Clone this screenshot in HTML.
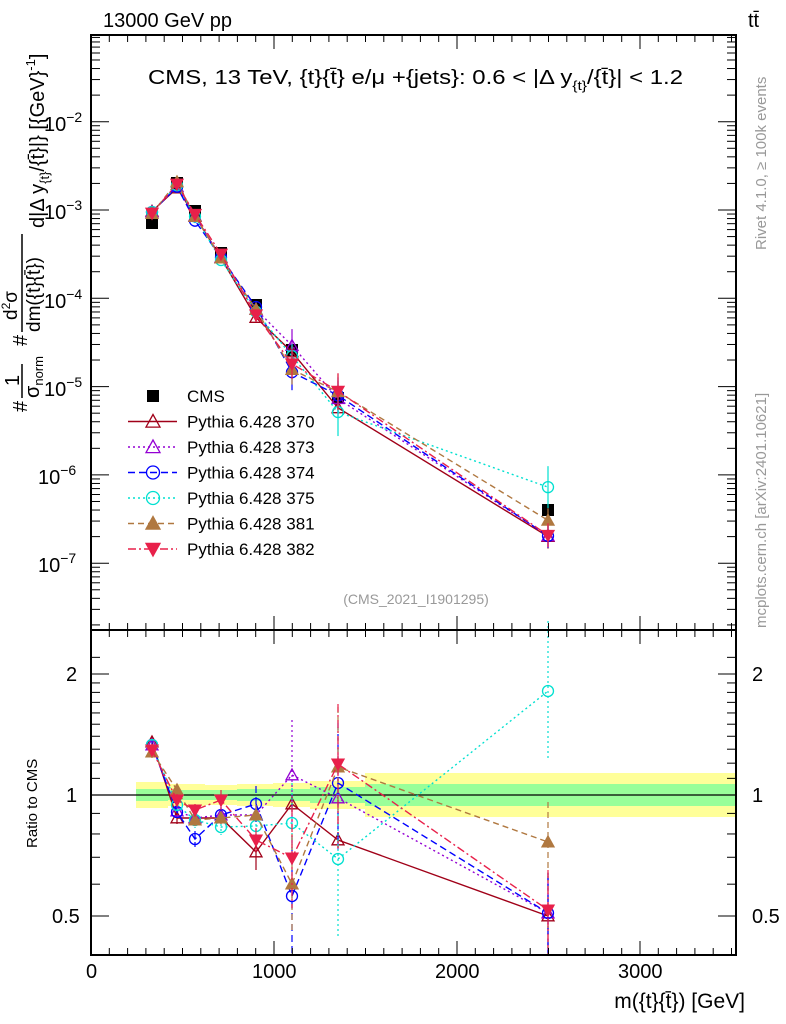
<!DOCTYPE html>
<html><head><meta charset="utf-8"><style>
html,body{margin:0;padding:0;background:#fff;}
svg{display:block;font-family:"Liberation Sans",sans-serif;}
</style></head><body>
<svg id="s" width="786" height="1024" viewBox="0 0 786 1024" xmlns="http://www.w3.org/2000/svg">
<rect width="786" height="1024" fill="#fff"/>
<g id="bands"></g>
<line x1="91" y1="795" x2="736" y2="795" stroke="#000" stroke-width="1.2"/>
<g id="data"></g>
<g id="axes" stroke="#000" fill="none"></g>
<rect x="91" y="35" width="645" height="595" fill="none" stroke="#000" stroke-width="2"/>
<rect x="91" y="630" width="645" height="325" fill="none" stroke="#000" stroke-width="2"/>
<g font-size="20" fill="#000">
<text x="103" y="27">13000 GeV pp</text>
<text x="748" y="27">tt̄</text>
<text x="148" y="84" font-size="20" textLength="535" lengthAdjust="spacingAndGlyphs">CMS, 13 TeV, {t}{t̄} e/μ +{jets}: 0.6 &lt; |Δ y<tspan font-size="13" dy="6">{t}</tspan><tspan dy="-6">/{t̄}| &lt; 1.2</tspan></text>
<text x="44" y="131">10<tspan font-size="14" dy="-9">−2</tspan></text>
<text x="44" y="219">10<tspan font-size="14" dy="-9">−3</tspan></text>
<text x="44" y="308">10<tspan font-size="14" dy="-9">−4</tspan></text>
<text x="44" y="396">10<tspan font-size="14" dy="-9">−5</tspan></text>
<text x="38" y="484">10<tspan font-size="14" dy="-9">−6</tspan></text>
<text x="38" y="572">10<tspan font-size="14" dy="-9">−7</tspan></text>
<text x="66" y="681">2</text><text x="66" y="802">1</text><text x="52" y="923">0.5</text>
<text x="752" y="681">2</text><text x="752" y="802">1</text><text x="752" y="923">0.5</text>
<text x="86" y="978">0</text><text x="252" y="978">1000</text><text x="435" y="978">2000</text><text x="618" y="978">3000</text>
<text x="745" y="1008" text-anchor="end" font-size="21">m({t}{t̄}) [GeV]</text>
<g transform="translate(0,412) rotate(-90)" font-size="20">
<text x="0" y="27">#</text>
<text x="26" y="19" font-size="20">1</text>
<line x1="14" y1="22" x2="48" y2="22" stroke="#000" stroke-width="1.5"/>
<text x="14" y="39" font-size="20">σ<tspan font-size="13" dy="4">norm</tspan></text>
<text x="66" y="27">#</text>
<text x="92" y="17" font-size="19">d<tspan font-size="12" dy="-7">2</tspan><tspan dy="7">σ</tspan></text>
<line x1="80" y1="22" x2="178" y2="22" stroke="#000" stroke-width="1.5"/>
<text x="80" y="40" font-size="19">dm({t}{t̄})</text>
<text x="184" y="44">d|Δ y<tspan font-size="13" dy="5">{t}</tspan><tspan dy="-5">/{t̄}|} [{GeV}</tspan><tspan font-size="13" dy="-9">-1</tspan><tspan dy="9">]</tspan></text>
</g>
<text transform="translate(37,848) rotate(-90)" font-size="15">Ratio to CMS</text>
<text transform="translate(766,250) rotate(-90)" font-size="15" fill="#999">Rivet 4.1.0, ≥ 100k events</text>
<text transform="translate(766,628) rotate(-90)" font-size="15" fill="#999">mcplots.cern.ch [arXiv:2401.10621]</text>
<text x="416" y="604" text-anchor="middle" font-size="14" fill="#999">(CMS_2021_I1901295)</text>
</g>
<g id="legend" font-size="17"></g>
<script>
var NS="http://www.w3.org/2000/svg";
function el(p,t,a){var e=document.createElementNS(NS,t);for(var k in a)e.setAttribute(k,a[k]);p.appendChild(e);return e;}
var ax=document.getElementById('axes'),bd=document.getElementById('bands'),dt=document.getElementById('data'),lg=document.getElementById('legend');
function X(g){return 91+0.183*g;}
for(var g=0;g<=3500;g+=100){var x=X(g),L=(g%1000==0)?14:7;
 el(ax,'line',{x1:x,y1:955,x2:x,y2:955-L});el(ax,'line',{x1:x,y1:630,x2:x,y2:630+L});
 el(ax,'line',{x1:x,y1:630,x2:x,y2:630-L});el(ax,'line',{x1:x,y1:35,x2:x,y2:35+L});}
function Ym(v){return 210-88.3*(Math.log10(v)+3);}
for(var d=-8;d<=-1;d++)for(var m=1;m<10;m++){var y=Ym(m*Math.pow(10,d));if(y<35||y>630)continue;var L=m==1?18:9;
 el(ax,'line',{x1:91,y1:y,x2:91+L,y2:y});el(ax,'line',{x1:736,y1:y,x2:736-L,y2:y});}
function Yr(r){return 795-402*Math.log10(r);}
[0.4,0.5,0.6,0.7,0.8,0.9,1,1.1,1.2,1.3,1.4,1.5,1.6,1.7,1.8,1.9,2,2.2].forEach(function(r){var y=Yr(r);if(y<630||y>955)return;var L=(r==0.5||r==1||r==2)?18:9;
 el(ax,'line',{x1:91,y1:y,x2:91+L,y2:y});el(ax,'line',{x1:736,y1:y,x2:736-L,y2:y});});
var bx=[136,168,205,237,273,310,365,736];
var yh=[13,11,10,11,12,14,22], gh=[6,5,5,6,6,8,11];
for(var i=0;i<7;i++){el(bd,'rect',{x:bx[i],y:795-yh[i],width:bx[i+1]-bx[i],height:2*yh[i],fill:'#ffff99'});}
for(var i=0;i<7;i++){el(bd,'rect',{x:bx[i],y:795-gh[i],width:bx[i+1]-bx[i],height:2*gh[i],fill:'#99ff99'});}
var px=[152,177,195,221,256,292,338,548];
var cy=[223,183,211,253,305,350,398,510];
var S=[
 {c:'#a00018',d:'',m:'tri',f:false,r:[742,818,818,818,852,804,840,916],e:[6,6,6,6,18,8,8,40]},
 {c:'#9400d3',d:'2,3',m:'tri',f:false,r:[745,811,818,815,815,775,798,913],e:[6,6,6,6,10,55,60,40]},
 {c:'#0000ff',d:'7,4',m:'circ',f:false,r:[745,812,839,815,804,896,783,913],e:[6,6,8,8,18,60,60,40]},
 {c:'#00e0d0',d:'2,3',m:'circ',f:false,r:[745,805,820,827,826,823,859,691],e:[6,6,8,8,12,40,80,70]},
 {c:'#b07840',d:'6,4',m:'tri',f:true,r:[752,790,820,818,815,884,767,842],e:[6,6,6,6,10,50,60,40]},
 {c:'#e8204a',d:'8,3,2,3',m:'dtri',f:true,r:[750,800,810,800,840,858,764,910],e:[6,6,6,10,12,50,60,40]}];
function mark(p,m,x,y,c,f,s){s=s||6;var a={stroke:c,'stroke-width':1.3,fill:f?c:'none'};
 if(m=='tri'){a.points=(x)+','+(y-s)+' '+(x-s)+','+(y+s*0.8)+' '+(x+s)+','+(y+s*0.8);el(p,'polygon',a);}
 else if(m=='dtri'){a.points=(x)+','+(y+s)+' '+(x-s)+','+(y-s*0.8)+' '+(x+s)+','+(y-s*0.8);el(p,'polygon',a);}
 else if(m=='circ'){a.cx=x;a.cy=y;a.r=s-0.5;el(p,'circle',a);}
 else {el(p,'rect',{x:x-s,y:y-s,width:2*s,height:2*s,fill:c});}}
function line(p,pts,c,d){el(p,'polyline',{points:pts.map(function(q){return q.join(',')}).join(' '),fill:'none',stroke:c,'stroke-width':1.4,'stroke-dasharray':d});}
for(var i=0;i<8;i++)mark(dt,'sq',px[i],cy[i],'#000',true);
S.forEach(function(s){
 var mp=[],rp=[];
 for(var i=0;i<8;i++){var my=cy[i]+0.2197*(s.r[i]-795);mp.push([px[i],my]);rp.push([px[i],s.r[i]]);
  el(dt,'line',{x1:px[i],y1:s.r[i]-s.e[i],x2:px[i],y2:Math.min(955,s.r[i]+s.e[i]),stroke:s.c,'stroke-width':1.2,'stroke-dasharray':s.d});
  el(dt,'line',{x1:px[i],y1:my-s.e[i]*0.3,x2:px[i],y2:my+s.e[i]*0.3,stroke:s.c,'stroke-width':1.2});}
 line(dt,mp,s.c,s.d);line(dt,rp,s.c,s.d);
 for(var i=0;i<8;i++){mark(dt,s.m,mp[i][0],mp[i][1],s.c,s.f);mark(dt,s.m,px[i],s.r[i],s.c,s.f);}
});
var names=['CMS','Pythia 6.428 370','Pythia 6.428 373','Pythia 6.428 374','Pythia 6.428 375','Pythia 6.428 381','Pythia 6.428 382'];
for(var k=0;k<7;k++){var y=396+25.5*k;
 if(k==0)mark(lg,'sq',153,y,'#000',true);else{var s=S[k-1];
  el(lg,'line',{x1:128,y1:y,x2:177,y2:y,stroke:s.c,'stroke-width':1.5,'stroke-dasharray':s.d});mark(lg,s.m,153,y,s.c,s.f,7);}
 var t=el(lg,'text',{x:187,y:y+6});t.textContent=names[k];}
</script>
</svg>
</body></html>
